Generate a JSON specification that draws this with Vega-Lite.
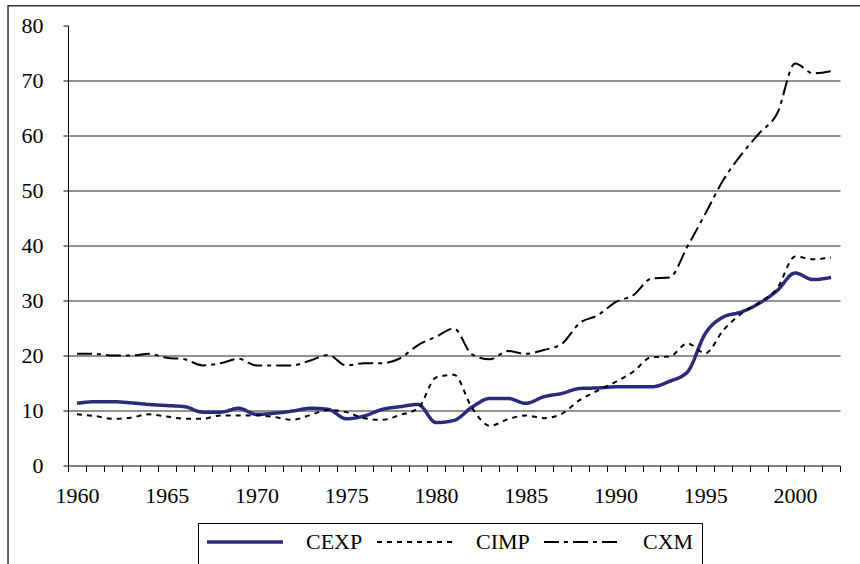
{
  "$schema": "https://vega.github.io/schema/vega-lite/v6.json",
  "width": 772,
  "height": 440,
  "autosize": {"type": "none"},
  "padding": {"left": 68, "top": 25.5, "right": 20, "bottom": 98.5},
  "background": "white",
  "config": {
    "view": {"stroke": null},
    "font": "Liberation Serif",
    "axis": {"labelFont": "Liberation Serif", "labelFontSize": 22, "labelColor": "black", "tickColor": "black", "domainColor": "black"},
    "legend": {"labelFont": "Liberation Serif"}
  },
  "resolve": {"axis": {"x": "independent"}},
  "datasets": {
    "series": [
      {"year": 1960, "series": "CEXP", "value": 11.3}, {"year": 1961, "series": "CEXP", "value": 11.6}, {"year": 1962, "series": "CEXP", "value": 11.6}, {"year": 1963, "series": "CEXP", "value": 11.4}, {"year": 1964, "series": "CEXP", "value": 11.1},
      {"year": 1965, "series": "CEXP", "value": 10.9}, {"year": 1966, "series": "CEXP", "value": 10.7}, {"year": 1967, "series": "CEXP", "value": 9.7}, {"year": 1968, "series": "CEXP", "value": 9.7}, {"year": 1969, "series": "CEXP", "value": 10.4},
      {"year": 1970, "series": "CEXP", "value": 9.3}, {"year": 1971, "series": "CEXP", "value": 9.5}, {"year": 1972, "series": "CEXP", "value": 9.9}, {"year": 1973, "series": "CEXP", "value": 10.4}, {"year": 1974, "series": "CEXP", "value": 10.2},
      {"year": 1975, "series": "CEXP", "value": 8.5}, {"year": 1976, "series": "CEXP", "value": 9.0}, {"year": 1977, "series": "CEXP", "value": 10.2}, {"year": 1978, "series": "CEXP", "value": 10.7}, {"year": 1979, "series": "CEXP", "value": 11.1},
      {"year": 1980, "series": "CEXP", "value": 7.8}, {"year": 1981, "series": "CEXP", "value": 8.2}, {"year": 1982, "series": "CEXP", "value": 10.6}, {"year": 1983, "series": "CEXP", "value": 12.2}, {"year": 1984, "series": "CEXP", "value": 12.2},
      {"year": 1985, "series": "CEXP", "value": 11.3}, {"year": 1986, "series": "CEXP", "value": 12.5}, {"year": 1987, "series": "CEXP", "value": 13.1}, {"year": 1988, "series": "CEXP", "value": 14.0}, {"year": 1989, "series": "CEXP", "value": 14.1},
      {"year": 1990, "series": "CEXP", "value": 14.3}, {"year": 1991, "series": "CEXP", "value": 14.3}, {"year": 1992, "series": "CEXP", "value": 14.3}, {"year": 1993, "series": "CEXP", "value": 15.3}, {"year": 1994, "series": "CEXP", "value": 17.0},
      {"year": 1995, "series": "CEXP", "value": 24.0}, {"year": 1996, "series": "CEXP", "value": 27.0}, {"year": 1997, "series": "CEXP", "value": 27.9}, {"year": 1998, "series": "CEXP", "value": 29.5}, {"year": 1999, "series": "CEXP", "value": 31.8},
      {"year": 2000, "series": "CEXP", "value": 35.0}, {"year": 2001, "series": "CEXP", "value": 33.8}, {"year": 2002, "series": "CEXP", "value": 34.2},

      {"year": 1960, "series": "CIMP", "value": 9.3}, {"year": 1961, "series": "CIMP", "value": 9.0}, {"year": 1962, "series": "CIMP", "value": 8.5}, {"year": 1963, "series": "CIMP", "value": 8.7}, {"year": 1964, "series": "CIMP", "value": 9.3},
      {"year": 1965, "series": "CIMP", "value": 8.9}, {"year": 1966, "series": "CIMP", "value": 8.5}, {"year": 1967, "series": "CIMP", "value": 8.5}, {"year": 1968, "series": "CIMP", "value": 9.1}, {"year": 1969, "series": "CIMP", "value": 9.1},
      {"year": 1970, "series": "CIMP", "value": 9.1}, {"year": 1971, "series": "CIMP", "value": 8.8}, {"year": 1972, "series": "CIMP", "value": 8.3}, {"year": 1973, "series": "CIMP", "value": 9.2}, {"year": 1974, "series": "CIMP", "value": 10.1},
      {"year": 1975, "series": "CIMP", "value": 9.7}, {"year": 1976, "series": "CIMP", "value": 8.6}, {"year": 1977, "series": "CIMP", "value": 8.3}, {"year": 1978, "series": "CIMP", "value": 9.2}, {"year": 1979, "series": "CIMP", "value": 10.4},
      {"year": 1980, "series": "CIMP", "value": 16.0}, {"year": 1981, "series": "CIMP", "value": 16.5}, {"year": 1982, "series": "CIMP", "value": 10.5}, {"year": 1983, "series": "CIMP", "value": 7.2}, {"year": 1984, "series": "CIMP", "value": 8.4},
      {"year": 1985, "series": "CIMP", "value": 9.1}, {"year": 1986, "series": "CIMP", "value": 8.6}, {"year": 1987, "series": "CIMP", "value": 9.4}, {"year": 1988, "series": "CIMP", "value": 11.9}, {"year": 1989, "series": "CIMP", "value": 13.6},
      {"year": 1990, "series": "CIMP", "value": 15.2}, {"year": 1991, "series": "CIMP", "value": 17.1}, {"year": 1992, "series": "CIMP", "value": 19.7}, {"year": 1993, "series": "CIMP", "value": 19.8}, {"year": 1994, "series": "CIMP", "value": 22.2},
      {"year": 1995, "series": "CIMP", "value": 20.4}, {"year": 1996, "series": "CIMP", "value": 24.6}, {"year": 1997, "series": "CIMP", "value": 27.6}, {"year": 1998, "series": "CIMP", "value": 29.6}, {"year": 1999, "series": "CIMP", "value": 32.2},
      {"year": 2000, "series": "CIMP", "value": 38.0}, {"year": 2001, "series": "CIMP", "value": 37.5}, {"year": 2002, "series": "CIMP", "value": 37.8},

      {"year": 1960, "series": "CXM", "value": 20.3}, {"year": 1961, "series": "CXM", "value": 20.3}, {"year": 1962, "series": "CXM", "value": 20.0}, {"year": 1963, "series": "CXM", "value": 20.0}, {"year": 1964, "series": "CXM", "value": 20.3},
      {"year": 1965, "series": "CXM", "value": 19.6}, {"year": 1966, "series": "CXM", "value": 19.3}, {"year": 1967, "series": "CXM", "value": 18.2}, {"year": 1968, "series": "CXM", "value": 18.6}, {"year": 1969, "series": "CXM", "value": 19.4},
      {"year": 1970, "series": "CXM", "value": 18.2}, {"year": 1971, "series": "CXM", "value": 18.2}, {"year": 1972, "series": "CXM", "value": 18.2}, {"year": 1973, "series": "CXM", "value": 19.1}, {"year": 1974, "series": "CXM", "value": 20.1},
      {"year": 1975, "series": "CXM", "value": 18.2}, {"year": 1976, "series": "CXM", "value": 18.6}, {"year": 1977, "series": "CXM", "value": 18.6}, {"year": 1978, "series": "CXM", "value": 19.5}, {"year": 1979, "series": "CXM", "value": 21.9},
      {"year": 1980, "series": "CXM", "value": 23.4}, {"year": 1981, "series": "CXM", "value": 24.9}, {"year": 1982, "series": "CXM", "value": 20.2}, {"year": 1983, "series": "CXM", "value": 19.3}, {"year": 1984, "series": "CXM", "value": 20.8},
      {"year": 1985, "series": "CXM", "value": 20.3}, {"year": 1986, "series": "CXM", "value": 21.0}, {"year": 1987, "series": "CXM", "value": 22.1}, {"year": 1988, "series": "CXM", "value": 25.9}, {"year": 1989, "series": "CXM", "value": 27.3},
      {"year": 1990, "series": "CXM", "value": 29.7}, {"year": 1991, "series": "CXM", "value": 31.0}, {"year": 1992, "series": "CXM", "value": 34.0}, {"year": 1993, "series": "CXM", "value": 34.2}, {"year": 1994, "series": "CXM", "value": 39.8},
      {"year": 1995, "series": "CXM", "value": 45.8}, {"year": 1996, "series": "CXM", "value": 51.9}, {"year": 1997, "series": "CXM", "value": 56.5}, {"year": 1998, "series": "CXM", "value": 60.4}, {"year": 1999, "series": "CXM", "value": 64.0},
      {"year": 2000, "series": "CXM", "value": 73.1}, {"year": 2001, "series": "CXM", "value": 71.3}, {"year": 2002, "series": "CXM", "value": 71.7}
    ]
  },
  "layer": [
    {
      "data": {"name": "series"},
      "mark": {"type": "line", "interpolate": "monotone"},
      "encoding": {
        "x": {
          "field": "year", "type": "quantitative",
          "scale": {"domain": [1959.5, 2002.5], "nice": false, "zero": false},
          "axis": {
            "title": null,
            "orient": "bottom",
            "values": [1959.5, 1960.5, 1961.5, 1962.5, 1963.5, 1964.5, 1965.5, 1966.5, 1967.5, 1968.5, 1969.5, 1970.5, 1971.5, 1972.5, 1973.5, 1974.5, 1975.5, 1976.5, 1977.5, 1978.5, 1979.5, 1980.5, 1981.5, 1982.5, 1983.5, 1984.5, 1985.5, 1986.5, 1987.5, 1988.5, 1989.5, 1990.5, 1991.5, 1992.5, 1993.5, 1994.5, 1995.5, 1996.5, 1997.5, 1998.5, 1999.5, 2000.5, 2001.5, 2002.5],
            "labels": false,
            "tickSize": 6,
            "grid": false
          }
        },
        "y": {
          "field": "value", "type": "quantitative",
          "scale": {"domain": [0, 80], "nice": false},
          "axis": {
            "title": null,
            "values": [0, 10, 20, 30, 40, 50, 60, 70, 80],
            "grid": true,
            "gridColor": "#222222",
            "gridWidth": 1,
            "gridOpacity": {"condition": {"test": "datum.value === 0 || datum.value === 80", "value": 0}, "value": 1},
            "labelPadding": 20,
            "tickSize": 5
          }
        },
        "color": {
          "field": "series", "type": "nominal",
          "scale": {"domain": ["CEXP", "CIMP", "CXM"], "range": ["#2B2B7B", "#000000", "#000000"]},
          "legend": {
            "title": " ", "titleOrient": "bottom", "titleFontSize": 30,
            "orient": "none", "legendX": 130, "legendY": 497.5,
            "direction": "horizontal",
            "symbolType": "stroke", "symbolSize": 5776, "symbolStrokeWidth": 2,
            "labelFontSize": 22, "labelColor": "black",
            "symbolOffset": 28, "labelOffset": 50, "columnPadding": 10, "padding": 8,
            "strokeColor": "black",
            "encode": {"symbols": {"update": {"strokeWidth": {"signal": "datum.value === 'CEXP' ? 3.5 : 2"}}}}
          }
        },
        "strokeDash": {
          "field": "series", "type": "nominal",
          "scale": {"domain": ["CEXP", "CIMP", "CXM"], "range": [[1, 0], [5, 5], [15, 5, 4, 5]]},
          "legend": {
            "title": " ", "titleOrient": "bottom", "titleFontSize": 30,
            "orient": "none", "legendX": 130, "legendY": 497.5,
            "direction": "horizontal",
            "symbolType": "stroke", "symbolSize": 5776, "symbolStrokeWidth": 2,
            "labelFontSize": 22, "labelColor": "black",
            "symbolOffset": 28, "labelOffset": 50, "columnPadding": 10, "padding": 8,
            "strokeColor": "black",
            "encode": {"symbols": {"update": {"strokeWidth": {"signal": "datum.value === 'CEXP' ? 3.5 : 2"}}}}
          }
        },
        "strokeWidth": {"condition": {"test": "datum.series === 'CEXP'", "value": 3.5}, "value": 2}
      }
    },
    {
      "data": {"values": [{}]},
      "mark": {"type": "rect", "fill": null, "stroke": "#333333", "strokeWidth": 1.5, "clip": false},
      "encoding": {
        "x": {
          "datum": 1956.16, "type": "quantitative",
          "scale": {"domain": [1959.5, 2002.5], "nice": false, "zero": false},
          "axis": {
            "title": null,
            "orient": "bottom",
            "values": [1960, 1965, 1970, 1975, 1980, 1985, 1990, 1995, 2000],
            "format": "d",
            "ticks": false,
            "domain": false,
            "labelOverlap": false,
            "labelBound": false,
            "labelFlush": false,
            "labelPadding": 20,
            "grid": false
          }
        },
        "x2": {"datum": 2012},
        "y": {"datum": 83.6, "type": "quantitative", "scale": {"domain": [0, 80], "nice": false}},
        "y2": {"datum": -25}
      }
    }
  ]
}
